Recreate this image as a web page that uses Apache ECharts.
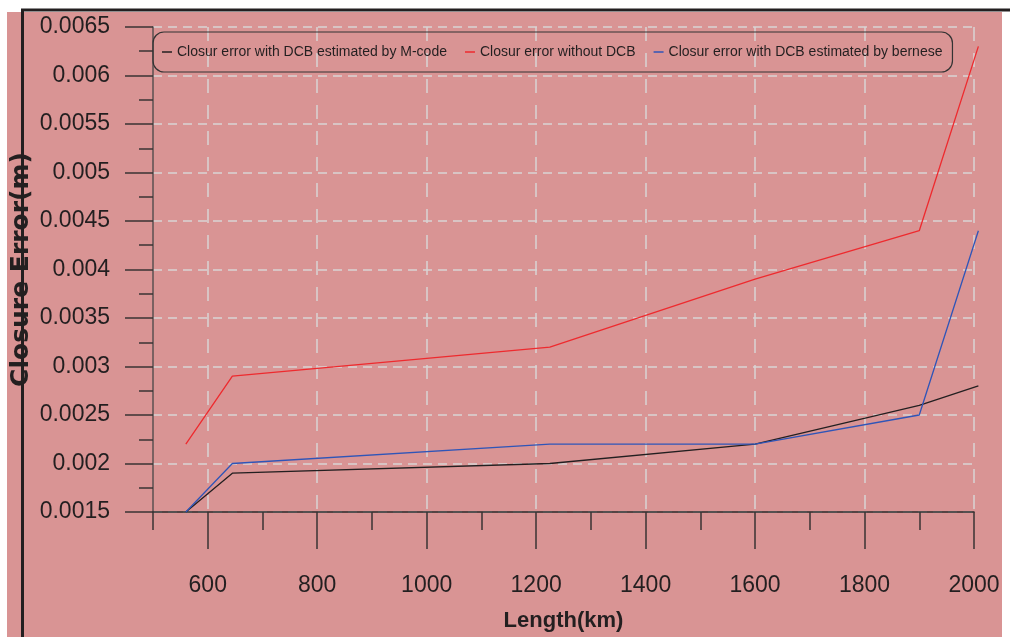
<!DOCTYPE html>
<html>
<head>
<meta charset="utf-8">
<script src="https://cdn.jsdelivr.net/npm/echarts@6/dist/echarts.min.js"></script>
<style>
html,body{margin:0;padding:0;background:#fff;}
#chart{width:1010px;height:637px;}
</style>
</head>
<body>
<div id="chart"></div>
<script>
// ---- data ----
var lengths = [560, 645, 1225, 1600, 1900, 2008];
var mcodeError = [0.0015, 0.0019, 0.0020, 0.0022, 0.0026, 0.0028];
var noDcbError = [0.0022, 0.0029, 0.0032, 0.0039, 0.0044, 0.0063];
var berneseError = [0.0015, 0.0020, 0.0022, 0.0022, 0.0025, 0.0044];
var seriesNames = [
  'Closur error with DCB estimated by M-code',
  'Closur error without DCB',
  'Closur error with DCB estimated by bernese'
];
var xTitle = 'Length(km)';
var yTitle = 'Closure Error(m)';

function pairs(xs, ys) { return xs.map(function (x, i) { return [x, ys[i]]; }); }

var sans = '"Liberation Sans", Arial, sans-serif';
var gridColor = '#d9d3d3';
var inkColor = '#231f20';

var chart = echarts.init(document.getElementById('chart'), null, { renderer: 'canvas' });

var leftPx = 153, rightPx = 974;
var pxPerKm = (rightPx - leftPx) / 1500;
var grid2Left = leftPx + 100 * pxPerKm;
var dataMaxX = 2008;
var grid3Right = leftPx + (dataMaxX - 500) * pxPerKm;

var option = {
  backgroundColor: '#ffffff',
  animation: false,
  graphic: [
    { type: 'rect', z: -100, silent: true, shape: { x: 7, y: 12, width: 995, height: 625 }, style: { fill: '#d99494' } },
    { type: 'line', z: 100, silent: true, shape: { x1: 21, y1: 10, x2: 1010, y2: 10 }, style: { stroke: inkColor, lineWidth: 3 } },
    { type: 'line', z: 100, silent: true, shape: { x1: 22.5, y1: 9, x2: 22.5, y2: 637 }, style: { stroke: inkColor, lineWidth: 3 } }
  ],
  grid: [
    { left: leftPx, right: 1010 - rightPx, top: 27, bottom: 125, outerBoundsMode: 'none', containLabel: false },
    { left: grid2Left, right: 1010 - rightPx, top: 27, bottom: 125, outerBoundsMode: 'none', containLabel: false },
    { left: leftPx, right: 1010 - grid3Right, top: 27, bottom: 125, outerBoundsMode: 'none', containLabel: false }
  ],
  legend: {
    left: 153, top: 32, width: 900,
    padding: [13, 10, 13, 9],
    itemGap: 18,
    itemWidth: 10, itemHeight: 1.5,
    icon: 'rect',
    borderColor: '#333', borderWidth: 1.2, borderRadius: 11,
    textStyle: { fontFamily: sans, fontSize: 14, color: inkColor },
    data: seriesNames
  },
  xAxis: [
    {
      type: 'value', gridIndex: 0, min: 500, max: 2000, interval: 100,
      name: xTitle, nameLocation: 'middle', nameGap: 98, nameMoveOverlap: false,
      nameTextStyle: { fontFamily: sans, fontWeight: 'bold', fontSize: 22, color: inkColor },
      axisLine: { show: true, onZero: false, lineStyle: { color: '#2a2a2a', width: 1.5 } },
      axisTick: { show: true, length: 18, lineStyle: { color: '#3a3333', width: 1.5 } },
      axisLabel: { show: false },
      splitLine: { show: false }
    },
    {
      type: 'value', gridIndex: 1, min: 600, max: 2000, interval: 200,
      axisLine: { show: false, onZero: false },
      axisTick: { show: true, length: 37, lineStyle: { color: '#3a3333', width: 1.5 } },
      axisLabel: { show: true, margin: 62, fontFamily: sans, fontSize: 23, color: inkColor,
        formatter: function (v) { return String(v); } },
      splitLine: { show: true, lineStyle: { color: gridColor, width: 1.5, type: [14, 12] } }
    },
    {
      type: 'value', gridIndex: 2, min: 500, max: dataMaxX, show: false,
      splitLine: { show: false }
    }
  ],
  yAxis: [
    {
      type: 'value', gridIndex: 0, min: 0.0015, max: 0.0065, interval: 0.0005,
      name: yTitle, nameLocation: 'middle', nameGap: 119, nameRotate: 90, nameMoveOverlap: false,
      nameTextStyle: { fontFamily: '"DejaVu Sans", sans-serif', fontWeight: 'bold', fontSize: 25, color: inkColor },
      axisLine: { show: true, onZero: false, lineStyle: { color: '#5a5050', width: 1.5 } },
      axisTick: { show: true, length: 28, lineStyle: { color: '#3a3333', width: 1.5 } },
      minorTick: { show: true, splitNumber: 2, length: 14, lineStyle: { color: '#3a3333', width: 1.5 } },
      axisLabel: {
        margin: 43, fontFamily: sans, fontSize: 23, color: inkColor,
        formatter: function (v) { return String(+v.toFixed(4)); }
      },
      splitLine: { show: true, lineStyle: { color: gridColor, width: 1.5, type: [9, 6] } }
    },
    {
      type: 'value', gridIndex: 1, min: 0.0015, max: 0.0065, interval: 0.0005, show: false,
      splitLine: { show: false }
    },
    {
      type: 'value', gridIndex: 2, min: 0.0015, max: 0.0065, interval: 0.0005, show: false,
      splitLine: { show: false }
    }
  ],
  series: [
    { name: seriesNames[0], type: 'line', xAxisIndex: 2, yAxisIndex: 2, data: pairs(lengths, mcodeError),
      showSymbol: false, clip: false, color: '#231f20', lineStyle: { width: 1.3, color: '#231f20' } },
    { name: seriesNames[1], type: 'line', xAxisIndex: 2, yAxisIndex: 2, data: pairs(lengths, noDcbError),
      showSymbol: false, clip: false, color: '#ee2a2e', lineStyle: { width: 1.3, color: '#ee2a2e' } },
    { name: seriesNames[2], type: 'line', xAxisIndex: 2, yAxisIndex: 2, data: pairs(lengths, berneseError),
      showSymbol: false, clip: false, color: '#2f55b8', lineStyle: { width: 1.3, color: '#2f55b8' } }
  ]
};
chart.setOption(option);
</script>
</body>
</html>
